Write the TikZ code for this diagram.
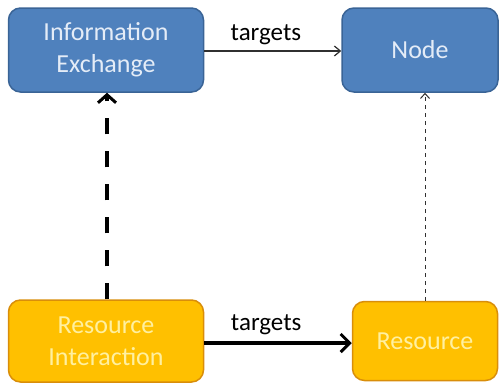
\documentclass[tikz,border=0pt]{standalone}
\usepackage{fontspec}
\setmainfont{Carlito}
\usetikzlibrary{arrows.meta}
\definecolor{bluefill}{HTML}{4F81BD}
\definecolor{blueline}{HTML}{3A6496}
\definecolor{bluetext}{HTML}{E4ECF7}
\definecolor{orfill}{HTML}{FFC000}
\definecolor{orline}{HTML}{D98E0A}
\definecolor{ortext}{HTML}{FFF0A0}
\definecolor{arrgray}{HTML}{303030}
\tikzset{
  bluebox/.style={draw=blueline, line width=1.5pt, fill=bluefill, rounded corners=12pt,
    text=bluetext, font=\fontsize{26}{32}\selectfont, align=center, inner sep=0pt},
  orbox/.style={draw=orline, line width=1.5pt, fill=orfill, rounded corners=12pt,
    text=ortext, font=\fontsize{26}{32}\selectfont, align=center, inner sep=0pt},
  lbl/.style={font=\fontsize{25}{30}\selectfont, text=black},
}
\begin{document}
\begin{tikzpicture}[x=1pt,y=-1pt]
\useasboundingbox (0,0) rectangle (501,386);
\node[bluebox, minimum width=195pt, minimum height=84pt] (ie) at (106,50) {Information\\Exchange};
\node[bluebox, minimum width=156pt, minimum height=84pt] (nd) at (420,50) {Node};
\node[orbox, minimum width=195pt, minimum height=82pt] (ri) at (106,341) {Resource\\Interaction};
\node[orbox, minimum width=145pt, minimum height=79pt] (rs) at (425,341) {Resource};
\draw[arrgray, line width=1.2pt, -{Straight Barb[length=6pt,width=10pt]}] (ie.east |- 0,51) -- (nd.west |- 0,51)
  node[lbl, pos=0.45, above=2pt] (t1) {targets};
\draw[black, line width=3.5pt, -{Straight Barb[length=9pt,width=18pt,line width=3pt]}] (ri.east |- 0,343) -- (rs.west |- 0,343)
  node[lbl, pos=0.42, above=3pt] (t2) {targets};
\draw[black, line width=4pt, dash pattern=on 16pt off 17pt, -{Straight Barb[length=8pt,width=18pt,line width=3pt]}] (ri.north -| 107,0) -- (ie.south -| 107,0);
\draw[arrgray, line width=1pt, dash pattern=on 4pt off 4pt, -{Straight Barb[length=5pt,width=9pt]}] (rs.north) -- (nd.south -| rs.north);
\end{tikzpicture}
\end{document}
